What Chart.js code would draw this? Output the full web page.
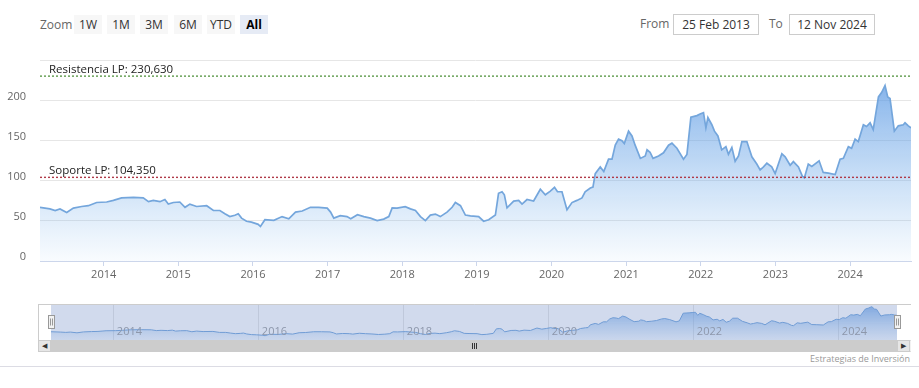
<!DOCTYPE html>
<html>
<head>
<meta charset="utf-8">
<script src="https://cdn.jsdelivr.net/npm/chart.js@4.4.0/dist/chart.umd.min.js"></script>
<style>
  html,body{margin:0;padding:0;background:#fff;}
  body{width:919px;height:388px;position:relative;overflow:hidden;font-family:"Open Sans",Arial,sans-serif;}
  .abs{position:absolute;}
  .lbl{color:#666;font-size:12px;line-height:19px;}
  .btn{position:absolute;top:15px;width:28px;height:19px;line-height:19px;text-align:center;font-size:12px;color:#333;background:#f7f7f7;}
  .btn.sel{background:#e6ebf5;font-weight:bold;color:#000;}
  .inp{position:absolute;top:14px;height:19px;line-height:19px;border:1px solid #ccc;text-align:center;font-size:12px;color:#333;background:#fff;}
  #main{position:absolute;left:0;top:40px;}
  #nav{position:absolute;left:38px;top:304px;}
  .grip{position:absolute;top:343px;width:1px;height:6px;background:#333;}
</style>
</head>
<body>
<div class="abs lbl" style="left:40px;top:15px;">Zoom</div>
<div class="btn" style="left:74px;">1W</div>
<div class="btn" style="left:107px;">1M</div>
<div class="btn" style="left:140px;">3M</div>
<div class="btn" style="left:174px;">6M</div>
<div class="btn" style="left:207px;">YTD</div>
<div class="btn sel" style="left:240px;">All</div>
<div class="abs lbl" style="left:640px;top:14px;">From</div>
<div class="inp" style="left:673px;width:84px;">25 Feb 2013</div>
<div class="abs lbl" style="left:769px;top:14px;">To</div>
<div class="inp" style="left:789px;width:84px;">12 Nov 2024</div>

<canvas id="main" width="919" height="246"></canvas>
<canvas id="nav" width="873" height="36"></canvas>

<!-- scrollbar -->
<div class="abs" style="left:38px;top:304px;width:0;height:48px;border-left:1px solid #ccc;"></div>
<div class="abs" style="left:38px;top:340px;width:873px;height:12px;background:#f2f2f2;border-top:1px solid #ddd;border-bottom:1px solid #ddd;box-sizing:border-box;"></div>
<div class="abs" style="left:38px;top:340px;width:13px;height:12px;background:#e6e6e6;border:1px solid #ccc;box-sizing:border-box;font-size:7px;line-height:10px;text-align:center;color:#333;">&#9664;</div>
<div class="abs" style="left:51px;top:340px;width:846px;height:12px;background:#cccccc;"></div>
<div class="grip" style="left:472px;"></div>
<div class="grip" style="left:474px;"></div>
<div class="grip" style="left:476px;"></div>
<div class="abs" style="left:897px;top:340px;width:13px;height:12px;background:#e6e6e6;border:1px solid #ccc;box-sizing:border-box;font-size:7px;line-height:10px;text-align:center;color:#333;">&#9654;</div>
<div class="abs" style="right:9px;top:352px;font-size:9px;color:#999;">Estrategias de Inversión</div>
<div class="abs" style="left:0;top:366px;width:919px;height:1px;background:#dcdce4;"></div>

<script>
// ---- data (decimal years) ----
const dates = [2013.147,2013.28,2013.35,2013.415,2013.505,2013.594,2013.705,2013.795,2013.906,2014.04,
2014.13,2014.24,2014.40,2014.53,2014.60,2014.665,2014.754,2014.82,2014.866,2014.933,
2015.02,2015.09,2015.155,2015.245,2015.38,2015.47,2015.557,2015.624,2015.69,2015.758,
2015.803,2015.847,2015.914,2015.98,2016.07,2016.10,2016.16,2016.28,2016.39,2016.48,
2016.57,2016.66,2016.77,2016.88,2016.995,2017.04,2017.083,2017.17,2017.26,2017.31,
2017.40,2017.485,2017.574,2017.664,2017.752,2017.82,2017.865,2017.93,2018.04,2018.11,
2018.177,2018.244,2018.31,2018.377,2018.444,2018.51,2018.60,2018.668,2018.712,2018.78,
2018.846,2018.913,2019.024,2019.09,2019.158,2019.248,2019.29,2019.337,2019.368,2019.404,
2019.493,2019.56,2019.605,2019.672,2019.76,2019.85,2019.917,2019.984,2020.04,2020.08,
2020.14,2020.207,2020.274,2020.34,2020.408,2020.45,2020.52,2020.555,2020.586,2020.653,
2020.70,2020.764,2020.81,2020.854,2020.898,2020.944,2020.975,2021.032,2021.078,2021.12,
2021.19,2021.256,2021.28,2021.32,2021.36,2021.434,2021.50,2021.568,2021.613,2021.68,
2021.768,2021.814,2021.867,2021.948,2021.99,2022.036,2022.068,2022.095,2022.148,2022.183,
2022.229,2022.28,2022.336,2022.37,2022.416,2022.46,2022.505,2022.55,2022.617,2022.684,
2022.75,2022.795,2022.84,2022.885,2022.95,2022.996,2023.086,2023.13,2023.197,2023.24,
2023.308,2023.36,2023.388,2023.44,2023.487,2023.585,2023.64,2023.71,2023.80,2023.866,
2023.91,2023.977,2024.02,2024.067,2024.11,2024.178,2024.22,2024.268,2024.31,2024.38,
2024.424,2024.468,2024.504,2024.535,2024.593,2024.646,2024.713,2024.736,2024.78,2024.816];
const prices = [67,65,63,65,60.5,66,68,69,73,73.6,
75.6,78.7,79.4,78.7,74,75.6,74,76.7,71,73,
73.6,67,71,68,69,63,63,59,55.4,57,
59,53.5,49.6,48.5,45.7,43,51.5,50.8,55.4,52.7,
61,62.4,67,67,66,61,53.5,56.6,55.4,52.7,
57.8,55.4,53.5,50.4,52.3,55.4,66.3,66,67.8,65,
63,55.4,50.4,57.3,58.5,55.4,61,67,73,69,
57.3,56.2,55.4,49.6,51.5,57.3,84.5,86.4,82.6,66.3,
74.8,75.6,71,76.7,74.8,89.5,82.6,87.2,91.9,86.4,
86.4,64,72.9,75.6,78.7,86.4,91,92.2,109,117.4,
111.6,127,127,144.5,152,150,146.5,162,156,144.5,
128,131,138.7,135.7,128,131,135,144.5,147,140.7,
127,133,179.4,181.4,183.4,185,166,179,170,162,
156,138.7,142.6,133,141.5,124.4,131,149,149,130,
121,113.6,117.4,122,117.4,109,133.7,130,119.4,124,
117.4,105.8,103.8,121,118,125,110.5,109.7,107.8,127,
128,142.6,140.7,152,149,170,167.8,172.4,164,204.7,
210.5,219,204.7,202.7,162,168.6,170,172.4,168.6,166];
const yTicks = [0,50,100,150,200,250];
const yearTicks = [2014,2015,2016,2017,2018,2019,2020,2021,2022,2023,2024];
const navYearTicks = [2014,2016,2018,2020,2022,2024];
const resistanceValue = 230.63;
const supportValue = 104.35;
const resistanceLabel = 'Resistencia LP: 230,630';
const supportLabel = 'Soporte LP: 104,350';

const FONT = '"Open Sans", Arial, sans-serif';
const points = dates.map((d,i)=>({x:d,y:prices[i]}));
const x0 = dates[0], x1 = dates[dates.length-1];

function areaGrad(c, top, bot){
  const {chart} = c; const {ctx, chartArea} = chart;
  if(!chartArea) return 'rgba(124,181,236,0.3)';
  const g = ctx.createLinearGradient(0, chartArea.top, 0, chartArea.bottom);
  g.addColorStop(0, top); g.addColorStop(1, bot);
  return g;
}

const levelLabels = {
  id:'levelLabels',
  afterDatasetsDraw(chart){
    const {ctx, chartArea, scales:{y}} = chart;
    ctx.save();
    ctx.font = '11.5px ' + FONT;
    ctx.fillStyle = '#222';
    ctx.textBaseline = 'bottom';
    ctx.textAlign = 'left';
    ctx.fillText(resistanceLabel, chartArea.left + 9, y.getPixelForValue(resistanceValue) - 1);
    ctx.fillText(supportLabel, chartArea.left + 9, y.getPixelForValue(supportValue) - 1);
    ctx.restore();
  }
};

new Chart(document.getElementById('main'), {
  type:'line',
  data:{datasets:[
    {data:points, borderColor:'#74a6dc', borderWidth:1.7, pointRadius:0, tension:0, fill:'origin',
     backgroundColor:(c)=>areaGrad(c,'rgba(80,145,225,0.8)','rgba(124,181,236,0.05)'), order:3},
    {data:[{x:x0,y:resistanceValue},{x:x1,y:resistanceValue}], borderColor:'#5e9a4c', borderWidth:1.4, borderDash:[2,2], pointRadius:0, fill:false, order:1},
    {data:[{x:x0,y:supportValue},{x:x1,y:supportValue}], borderColor:'#b03a48', borderWidth:1.4, borderDash:[2,2], pointRadius:0, fill:false, order:1}
  ]},
  options:{
    responsive:false, animation:false,
    layout:{padding:{top:6,right:8,left:0,bottom:0}},
    plugins:{legend:{display:false}, tooltip:{enabled:false}},
    scales:{
      x:{type:'linear', min:x0, max:x1,
         afterBuildTicks:(s)=>{s.ticks = yearTicks.map(v=>({value:v}));},
         afterFit:(s)=>{s.height = 25;},
         grid:{drawOnChartArea:false, drawTicks:true, tickLength:5, color:'#ccd6eb'},
         border:{color:'#ccd6eb', width:1},
         ticks:{color:'#666', font:{family:FONT, size:11}, padding:2, maxRotation:0, autoSkip:false, callback:(v)=>String(v)}},
      y:{min:0, max:250,
         afterBuildTicks:(s)=>{s.ticks = yTicks.map(v=>({value:v}));},
         afterFit:(s)=>{s.width = 40;},
         grid:{color:'#e6e6e6', drawTicks:false},
         border:{display:false},
         ticks:{color:'#666', font:{family:FONT, size:11}, padding:14, labelOffset:-4, callback:(v)=> v===250 ? '' : String(v)}}
    }
  },
  plugins:[levelLabels]
});

const navDecor = {
  id:'navDecor',
  beforeDatasetsDraw(chart){
    const {ctx, chartArea:a, scales:{x}} = chart;
    ctx.save();
    ctx.strokeStyle = '#e6e6e6'; ctx.lineWidth = 1;
    navYearTicks.forEach(v=>{
      const px = Math.round(x.getPixelForValue(v)) + 0.5;
      ctx.beginPath(); ctx.moveTo(px, a.top); ctx.lineTo(px, a.bottom); ctx.stroke();
    });
    ctx.restore();
  },
  afterDatasetsDraw(chart){
    const {ctx, chartArea:a, scales:{x}} = chart;
    ctx.save();
    ctx.fillStyle = 'rgba(102,133,194,0.3)';
    ctx.fillRect(a.left, a.top, a.right - a.left, a.bottom - a.top);
    ctx.font = '11px ' + FONT;
    ctx.fillStyle = '#8d97ab';
    ctx.textBaseline = 'middle';
    navYearTicks.forEach(v=>{
      ctx.fillText(String(v), x.getPixelForValue(v) + 4, a.top + 28);
    });
    ctx.strokeStyle = '#cccccc'; ctx.lineWidth = 1;
    ctx.beginPath(); ctx.moveTo(0, 0.5); ctx.lineTo(chart.width, 0.5); ctx.stroke();
    [a.left, a.right].forEach(hx=>{
      const l = Math.round(hx - 3) + 0.5, t = 11.5;
      ctx.fillStyle = '#f2f2f2'; ctx.strokeStyle = '#999';
      ctx.fillRect(l, t, 6, 13); ctx.strokeRect(l, t, 6, 13);
      ctx.beginPath(); ctx.moveTo(l+2, t+3); ctx.lineTo(l+2, t+10); ctx.moveTo(l+4, t+3); ctx.lineTo(l+4, t+10); ctx.stroke();
    });
    ctx.restore();
  }
};

new Chart(document.getElementById('nav'), {
  type:'line',
  data:{datasets:[
    {data:points, borderColor:'#74a6dc', borderWidth:1, pointRadius:0, tension:0, fill:'origin',
     backgroundColor:(c)=>areaGrad(c,'rgba(80,145,225,0.7)','rgba(124,181,236,0.08)')}
  ]},
  options:{
    responsive:false, animation:false,
    layout:{padding:{top:0,right:14,left:13,bottom:0}},
    plugins:{legend:{display:false}, tooltip:{enabled:false}},
    scales:{
      x:{type:'linear', display:false, min:x0, max:x1},
      y:{display:false, min:17, max:235}
    }
  },
  plugins:[navDecor]
});
</script>
</body>
</html>
